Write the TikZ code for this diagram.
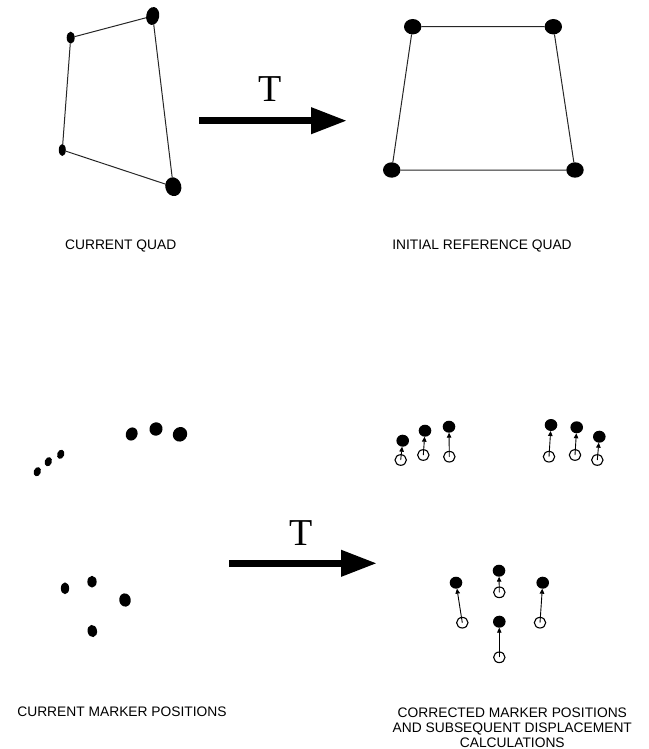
\documentclass[tikz,border=0pt]{standalone}
\usepackage{fontspec}
\setmainfont{Liberation Sans}
\newfontfamily\tfont{Liberation Serif}
\usetikzlibrary{shapes.geometric,arrows.meta}
\begin{document}
\begin{tikzpicture}[x=1pt,y=-1pt,
  dotf/.style n args={2}{ellipse,fill=black,draw=none,inner sep=0pt,outer sep=0pt,minimum width=#1,minimum height=#2},
  doto/.style={ellipse,draw=black,line width=1.1pt,inner sep=0pt,outer sep=0pt,minimum width=11.4,minimum height=10.6},
  quadline/.style={line width=1pt,black!85},
  bigarrow/.style={line width=7pt,-{Triangle[length=36pt,width=25pt]}},
  mkarrow/.style={line width=0.9pt,-{Triangle[length=5pt,width=4.5pt]}},
  lbl/.style={font=\fontsize{13.8}{15}\selectfont,align=center,inner sep=0pt},
  tlbl/.style={font=\tfont\fontsize{38}{38}\selectfont,inner sep=0pt,anchor=base}]
\useasboundingbox (0,0) rectangle (648,749);

% top-left quad
\node[dotf={8}{12}] (qa) at (70.7,37.7) {};
\node[dotf={13}{18},rotate=-10] (qb) at (152.7,16) {};
\node[dotf={16}{19},rotate=15] (qc) at (173.3,186.7) {};
\node[dotf={7}{12}] (qd) at (62.3,150) {};
\draw[quadline] (qa) -- (qb) -- (qc) -- (qd) -- (qa);

% top-right quad
\node[dotf={17.4}{15.4}] (ra) at (412.7,26.7) {};
\node[dotf={17.4}{15.4}] (rb) at (553.3,26.7) {};
\node[dotf={17.4}{15.4}] (rc) at (575,170) {};
\node[dotf={17.4}{15.4}] (rd) at (391.7,170) {};
\draw[quadline] (ra) -- (rb) -- (rc) -- (rd) -- (ra);

% top arrow
\coordinate (t1s) at (199,120.7);
\coordinate (t1e) at (347,120.7);
\draw[bigarrow] (t1s) -- (t1e);
\node[tlbl] (T1) at (270,101.7) {T};

\node[lbl] (l1) at (120.7,246) {CURRENT QUAD};
\node[lbl] (l2) at (482,246) {INITIAL REFERENCE QUAD};

% bottom-left markers
\node[dotf={7}{9.5},rotate=-20] (m1) at (37.3,471.7) {};
\node[dotf={7}{9.5},rotate=-20] (m2) at (48.3,461.7) {};
\node[dotf={7}{9.5},rotate=-20] (m3) at (60.7,454.3) {};
\node[dotf={11.5}{13.5},rotate=-25] (m4) at (131.7,434) {};
\node[dotf={13}{13.5},rotate=-30] (m5) at (156,429) {};
\node[dotf={14}{15},rotate=-40] (m6) at (180,434.3) {};
\node[dotf={8.3}{11.7}] (m7) at (65,588.3) {};
\node[dotf={9.3}{11.7}] (m8) at (92,581.7) {};
\node[dotf={11.5}{13.3},rotate=10] (m9) at (125,600) {};
\node[dotf={9.5}{12.3},rotate=10] (m10) at (92.3,631) {};

% bottom arrow
\coordinate (t2s) at (229,563.3);
\coordinate (t2e) at (377,563.3);
\draw[bigarrow] (t2s) -- (t2e);
\node[tlbl] (T2) at (301,545) {T};

% corrected markers
\node[dotf={12.6}{12}] (f1) at (402.7,440.7) {};
\node[doto] (o1) at (400.7,460) {};
\node[dotf={12.6}{12}] (f2) at (425,430.7) {};
\node[doto] (o2) at (423.3,455) {};
\node[dotf={12.6}{12}] (f3) at (449,426.7) {};
\node[doto] (o3) at (449.3,456.7) {};
\node[dotf={12.6}{12}] (f4) at (551,425) {};
\node[doto] (o4) at (549,456.7) {};
\node[dotf={12.6}{12}] (f5) at (576.7,427.3) {};
\node[doto] (o5) at (575,455) {};
\node[dotf={12.6}{12}] (f6) at (599.3,436.7) {};
\node[doto] (o6) at (597.3,460) {};
\node[dotf={12.6}{12}] (f7) at (456,582.7) {};
\node[doto] (o7) at (462.3,622.7) {};
\node[dotf={12.6}{12}] (f8) at (499,570.7) {};
\node[doto] (o8) at (499.3,592.3) {};
\node[dotf={12.6}{12}] (f9) at (542.7,582.7) {};
\node[doto] (o9) at (540,622.7) {};
\node[dotf={12.6}{12}] (f10) at (499.3,621.7) {};
\node[doto] (o10) at (499.3,657.3) {};
\foreach \i in {1,...,10} {\draw[mkarrow] (o\i.center) -- (f\i);}

\node[lbl] (l3) at (122,711.7) {CURRENT MARKER POSITIONS};
\node[lbl] (l4) at (512.3,727.5) {CORRECTED MARKER POSITIONS\\AND SUBSEQUENT DISPLACEMENT\\CALCULATIONS};
\end{tikzpicture}
\end{document}
